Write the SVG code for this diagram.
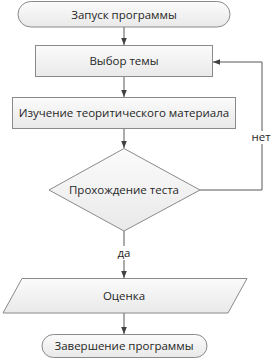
<svg xmlns="http://www.w3.org/2000/svg" width="272" height="362" viewBox="0 0 272 362">
<defs>
<linearGradient id="g" x1="0" y1="0" x2="0" y2="1">
<stop offset="0" stop-color="#fbfbfb"/>
<stop offset="1" stop-color="#e9e9e9"/>
</linearGradient>
<marker id="a" viewBox="0 0 10 10" refX="10" refY="5" markerWidth="7" markerHeight="7" orient="auto" markerUnits="userSpaceOnUse">
<path d="M0,1 L10,5 L0,9 Z" fill="#404040"/>
</marker>
<style>
.n{fill:url(#g);stroke:#8a8a8a;stroke-width:1}
.t{font-family:"Open Sans","DejaVu Sans",sans-serif;font-size:11.5px;fill:#262626;text-anchor:middle}
.c{fill:none;stroke:#595959;stroke-width:1}
</style>
</defs>
<rect width="272" height="362" fill="#ffffff"/>
<g id="connectors">
<line class="c" x1="124" y1="27" x2="124" y2="45" marker-end="url(#a)"/>
<line class="c" x1="124" y1="77" x2="124" y2="97" marker-end="url(#a)"/>
<line class="c" x1="124" y1="129" x2="124" y2="148" marker-end="url(#a)"/>
<polyline class="c" points="200,190 262,190 262,62 213,62" marker-end="url(#a)"/>
<line class="c" x1="124" y1="231" x2="124" y2="278" marker-end="url(#a)"/>
<line class="c" x1="124" y1="313" x2="124" y2="334" marker-end="url(#a)"/>
<rect x="250" y="131" width="24" height="13" fill="#ffffff"/>
<text class="t" x="261" y="141">нет</text>
<rect x="114" y="246" width="20" height="14" fill="#ffffff"/>
<text class="t" x="124" y="257">да</text>
</g>
<g id="start">
<rect class="n" x="18" y="1.5" width="212" height="25.5" rx="12.75"/>
<text class="t" x="124" y="18.5">Запуск программы</text>
</g>
<g id="choose">
<rect class="n" x="35.5" y="45.5" width="177" height="31"/>
<text class="t" x="124" y="65">Выбор темы</text>
</g>
<g id="study">
<rect class="n" x="12.5" y="97.5" width="223" height="31"/>
<text class="t" x="124" y="117">Изучение теоритического материала</text>
</g>
<g id="test">
<polygon class="n" points="124,148.5 200,190 124,231 49,190"/>
<text class="t" x="124" y="194">Прохождение теста</text>
</g>
<g id="grade">
<polygon class="n" points="22,278.5 247,278.5 228,313 3,313"/>
<text class="t" x="124" y="300">Оценка</text>
</g>
<g id="end">
<rect class="n" x="42" y="334.5" width="165" height="23" rx="11.5"/>
<text class="t" x="124" y="350">Завершение программы</text>
</g>
</svg>
